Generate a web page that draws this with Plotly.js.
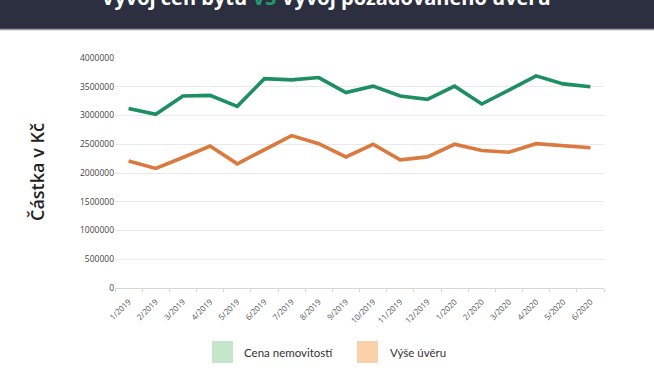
<!DOCTYPE html>
<html>
<head>
<meta charset="utf-8">
<script src="https://cdn.plot.ly/plotly-3.0.1.min.js"></script>
<style>html,body{margin:0;padding:0;background:#fff;}#chart{width:654px;height:371px;}</style>
</head>
<body>
<div id="chart"></div>
<script>
var months = ["1/2019","2/2019","3/2019","4/2019","5/2019","6/2019","7/2019","8/2019","9/2019","10/2019","11/2019","12/2019","1/2020","2/2020","3/2020","4/2020","5/2020","6/2020"];
var cenaNemovitosti = [3120000,3020000,3340000,3350000,3160000,3640000,3620000,3660000,3400000,3510000,3340000,3280000,3510000,3200000,3440000,3690000,3550000,3500000];
var vyseUveru = [2210000,2080000,2270000,2470000,2160000,2400000,2650000,2510000,2280000,2500000,2230000,2280000,2500000,2390000,2360000,2510000,2470000,2440000];
var yTicks = [0,500000,1000000,1500000,2000000,2500000,3000000,3500000,4000000];
var seriesNames = ["Cena nemovitostí","Výše úvěru"];
var titleText = 'Vývoj cen bytů <span style="color:#1f9b6b">VS</span> Vývoj požadovaného úvěru';
var yTitle = "Částka v Kč";

var L = 115, R = 50, T = 58, B = 83, W = 654, H = 371;
var pw = W - L - R, ph = H - T - B;
function px(x){ return (x - L) / pw; }
function py(y){ return (H - B - y) / ph; }

var traces = [
  {x: months, y: cenaNemovitosti, type: 'scatter', mode: 'lines', name: seriesNames[0],
   line: {color: '#1e8f63', width: 3.6}, hoverinfo: 'skip'},
  {x: months, y: vyseUveru, type: 'scatter', mode: 'lines', name: seriesNames[1],
   line: {color: '#db7a3f', width: 3.6}, hoverinfo: 'skip'}
];

var layout = {
  width: W, height: H,
  margin: {l: L, r: R, t: T, b: B, pad: 0},
  paper_bgcolor: '#ffffff', plot_bgcolor: '#ffffff',
  showlegend: false,
  font: {family: 'Open Sans, sans-serif', color: '#444'},
  title: {text: titleText, x: 326 / W, xref: 'container', xanchor: 'center',
          y: 1 - 5 / H, yref: 'container', yanchor: 'bottom',
          font: {family: 'Open Sans, sans-serif', size: 20, color: '#ffffff', weight: 700}},
  xaxis: {
    type: 'category', range: [-0.5, 17.5], tickangle: -45,
    tickfont: {size: 8, color: '#555'}, showgrid: false,
    showline: true, linecolor: '#d6d6d6', linewidth: 1,
    ticks: 'outside', tickson: 'boundaries', ticklen: 3, tickcolor: '#d6d6d6',
    ticklabelstandoff: 5,
    zeroline: false, fixedrange: true
  },
  yaxis: {
    range: [0, 4000000], tickvals: yTicks, ticktext: yTicks.map(String),
    tickfont: {size: 8.5, color: '#444'}, showgrid: true, gridcolor: '#e9e9e9', gridwidth: 1,
    zeroline: false, showline: false, ticks: '', fixedrange: true
  },
  shapes: [
    {type: 'rect', xref: 'paper', yref: 'paper', x0: px(0), x1: px(W), y0: py(29), y1: py(-2),
     fillcolor: '#2b2f40', line: {width: 0}, layer: 'above'},
    {type: 'line', xref: 'paper', yref: 'paper', x0: px(0), x1: px(W), y0: py(29.5), y1: py(29.5),
     line: {color: '#9a9ca3', width: 1.5}},
    {type: 'rect', xref: 'paper', yref: 'paper', x0: px(212), x1: px(233), y0: py(363), y1: py(341),
     fillcolor: '#c6e6cb', line: {width: 0}},
    {type: 'rect', xref: 'paper', yref: 'paper', x0: px(357), x1: px(378), y0: py(363), y1: py(341),
     fillcolor: '#fbd1aa', line: {width: 0}}
  ],
  annotations: [
    {text: yTitle, xref: 'paper', yref: 'paper', x: px(37), y: py(172), xanchor: 'center', yanchor: 'middle',
     textangle: -90, showarrow: false, font: {family: 'Open Sans, sans-serif', size: 18, color: '#222', weight: 600}},
    {text: seriesNames[0], xref: 'paper', yref: 'paper', x: px(242), y: py(352), xanchor: 'left', yanchor: 'middle',
     showarrow: false, font: {family: 'Lato, sans-serif', size: 11.5, color: '#333'}},
    {text: seriesNames[1], xref: 'paper', yref: 'paper', x: px(388), y: py(352), xanchor: 'left', yanchor: 'middle',
     showarrow: false, font: {family: 'Lato, sans-serif', size: 11.5, color: '#333'}}
  ]
};

Plotly.newPlot('chart', traces, layout, {staticPlot: true, displayModeBar: false});
</script>
</body>
</html>
